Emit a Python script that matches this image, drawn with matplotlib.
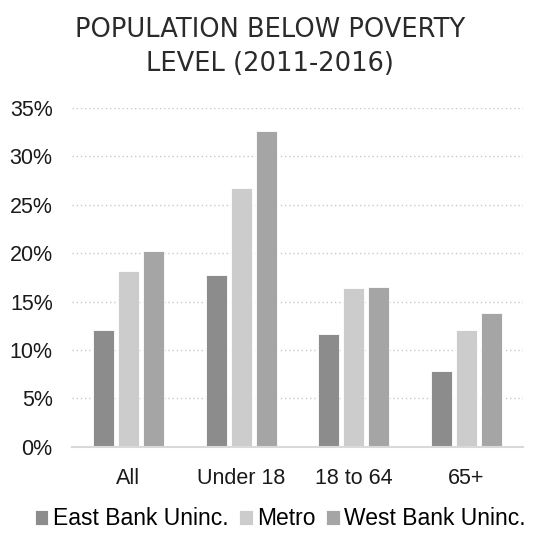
import numpy as np
import matplotlib
matplotlib.use("Agg")
import matplotlib.pyplot as plt
from matplotlib.ticker import FuncFormatter

# values (percent)
categories = ["All", "Under 18", "18 to 64", "65+"]
series_names = ["East Bank Uninc.", "Metro", "West Bank Uninc."]
east_bank = [12.1, 17.7, 11.6, 7.8]
metro = [18.2, 26.7, 16.4, 12.1]
west_bank = [20.2, 32.6, 16.5, 13.8]
colors = ["#8c8c8c", "#cccccc", "#a5a5a5"]

plt.rcParams["font.family"] = ["Liberation Sans", "DejaVu Sans"]

fig = plt.figure(figsize=(5.34, 5.35), dpi=100)
ax = fig.add_axes([0.135, 0.165, 0.844, 0.633])

x = np.arange(len(categories))
offset = 0.222
for i, (vals, name) in enumerate(zip([east_bank, metro, west_bank], series_names)):
    ax.bar(x + (i - 1) * offset, vals, width=0.185, color=colors[i], label=name,
           edgecolor="white", linewidth=0.6, zorder=3)

ax.set_xlim(-0.5, len(categories) - 0.5)
ax.set_ylim(0, 35)
ax.set_yticks(np.arange(0, 36, 5))
ax.yaxis.set_major_formatter(FuncFormatter(lambda v, p: f"{v:.0f}%"))
ax.set_xticks(x)
ax.set_xticklabels(categories)
ax.tick_params(axis="both", length=0, labelsize=15.5, colors="#1a1a1a")
ax.tick_params(axis="x", pad=15)
ax.tick_params(axis="y", pad=14)

ax.grid(axis="y", linestyle=(0, (1, 2)), color="#c8c8c8", linewidth=1.0, zorder=0)
for s in ["top", "right", "left"]:
    ax.spines[s].set_visible(False)
ax.spines["bottom"].set_color("#d9d9d9")
ax.spines["bottom"].set_linewidth(1.5)
ax.spines["bottom"].set_zorder(4)

fig.text(0.506, 0.912, "POPULATION BELOW POVERTY\nLEVEL (2011-2016)", ha="center",
         va="center", fontsize=18.5, color="#2a2a2a", linespacing=1.4,
         family=["DejaVu Sans"])

fig.legend(loc="center", bbox_to_anchor=(0.525, 0.03), ncol=3, frameon=False,
           fontsize=16.5, handlelength=0.6, handleheight=0.62, handletextpad=0.2,
           columnspacing=0.45, borderaxespad=0, borderpad=0)

fig.savefig("out.png", dpi=100)
